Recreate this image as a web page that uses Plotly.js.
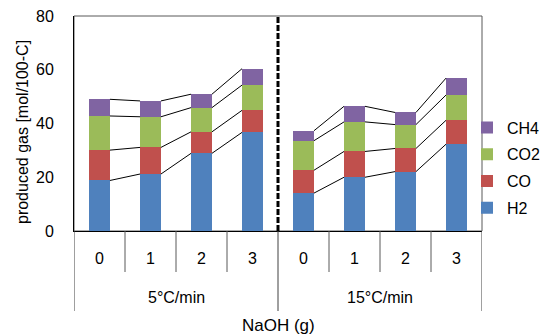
<!DOCTYPE html>
<html>
<head>
<meta charset="utf-8">
<script src="https://cdn.plot.ly/plotly-3.0.1.min.js"></script>
<style>html,body{margin:0;padding:0;background:#fff;}#chart{width:542px;height:334px;}</style>
</head>
<body>
<div id="chart"></div>
<script>
// ---- data ----
const rates = ["5°C/min", "15°C/min"];
const naoh = ["0", "1", "2", "3"];
const H2  = [18.8, 21.2, 28.9, 36.7, 14.1, 20.0, 22.1, 32.3];
const CO  = [11.3,  9.9,  8.0,  8.2,  8.5,  9.6,  8.6,  8.9];
const CO2 = [12.7, 11.4,  9.0,  9.4, 11.0, 11.0,  8.9,  9.4];
const CH4 = [ 6.2,  5.9,  5.0,  6.1,  3.7,  5.8,  4.5,  6.3];
const seriesNames = ["H2", "CO", "CO2", "CH4"];

// ---- build ----
const series = [H2, CO, CO2, CH4];
const colors = ["#4F81BD", "#C0504D", "#9BBB59", "#8064A2"];
const nPer = naoh.length;
const xs = [];
rates.forEach((r, g) => naoh.forEach((n, j) => xs.push(g * nPer + j)));
const barW = 0.41;
const font = "Liberation Sans, Arial, sans-serif";

const traces = [];
series.forEach((vals, k) => {
  traces.push({
    type: "bar", x: xs, y: vals, name: seriesNames[k], width: barW,
    marker: {color: colors[k], line: {width: 0}},
    legendgroup: seriesNames[k], legendrank: series.length - k, hoverinfo: "y+name"
  });
});

// series lines connecting stacked tops within each group
const cum = series.map((_, k) => xs.map((_, i) => series.slice(0, k + 1).reduce((s, a) => s + a[i], 0)));
cum.forEach((c) => {
  const lx = [], ly = [];
  rates.forEach((r, g) => {
    for (let j = 0; j < nPer - 1; j++) {
      const i = g * nPer + j;
      lx.push(xs[i] + barW / 2, xs[i + 1] - barW / 2, null);
      ly.push(c[i], c[i + 1], null);
    }
  });
  traces.push({type: "scatter", mode: "lines", x: lx, y: ly, showlegend: false,
    hoverinfo: "skip", line: {color: "#000", width: 1}});
});

const plotH = 215;
const py = (px) => -(px) / plotH; // pixels below plot bottom -> paper y

const shapes = [];
// frame
shapes.push({type: "rect", xref: "paper", yref: "paper", x0: 0, x1: 1, y0: 0, y1: 1,
  line: {color: "#595959", width: 1}, layer: "below"});
// dashed separator between groups
shapes.push({type: "line", xref: "x", yref: "paper", x0: nPer - 0.5, x1: nPer - 0.5, y0: 0, y1: 1,
  line: {color: "#000", width: 3, dash: "6px,2px"}});
// inner category dividers
xs.forEach((x, i) => {
  if (i % nPer !== 0) {
    shapes.push({type: "line", xref: "x", yref: "paper", x0: x - 0.5, x1: x - 0.5, y0: 0, y1: py(41),
      line: {color: "#595959", width: 1}});
  }
});
// outer group dividers
for (let g = 0; g <= rates.length; g++) {
  const x = g * nPer - 0.5;
  shapes.push({type: "line", xref: "x", yref: "paper", x0: x, x1: x, y0: 0, y1: py(80),
    line: {color: "#404040", width: 1}});
}

const annotations = [];
xs.forEach((x, i) => annotations.push({x: x, xref: "x", y: py(27), yref: "paper",
  text: naoh[i % nPer], showarrow: false, yanchor: "middle", font: {family: font, size: 16, color: "#000"}}));
rates.forEach((r, g) => annotations.push({x: g * nPer + (nPer - 1) / 2, xref: "x", y: py(66), yref: "paper",
  text: r, showarrow: false, yanchor: "middle", font: {family: font, size: 16, color: "#000"}}));
annotations.push({x: (xs.length - 1) / 2, xref: "x", y: py(94), yref: "paper", text: "NaOH (g)",
  showarrow: false, yanchor: "middle", font: {family: font, size: 17, color: "#000"}});
annotations.push({x: -52 / 408, xref: "paper", y: (231 - 132) / plotH, yref: "paper",
  text: "produced gas [mol/100-C]", textangle: -90, showarrow: false, xanchor: "center", yanchor: "middle",
  font: {family: font, size: 16, color: "#000"}});

const layout = {
  width: 542, height: 334,
  margin: {l: 74, r: 60, t: 16, b: 103, pad: 0, autoexpand: false},
  paper_bgcolor: "#fff", plot_bgcolor: "#fff",
  barmode: "stack",
  showlegend: true,
  legend: {x: (467 - 74) / 408, xanchor: "left", y: (231 - 168) / plotH, yanchor: "middle",
    traceorder: "grouped", tracegroupgap: 3,
    font: {family: font, size: 16, color: "#000"}, bgcolor: "rgba(0,0,0,0)"},
  xaxis: {range: [-0.5, xs.length - 0.5], showticklabels: false, ticks: "", showgrid: false,
    zeroline: false, showline: true, linecolor: "#000", linewidth: 1, fixedrange: true},
  yaxis: {range: [0, 80], dtick: 20, tick0: 0, showgrid: false, zeroline: false,
    showline: true, linecolor: "#000", linewidth: 1, ticks: "", ticklabelstandoff: 16,
    tickfont: {family: font, size: 16, color: "#000"}, fixedrange: true},
  shapes: shapes,
  annotations: annotations
};

Plotly.newPlot("chart", traces, layout, {displayModeBar: false, staticPlot: true});
</script>
</body>
</html>
